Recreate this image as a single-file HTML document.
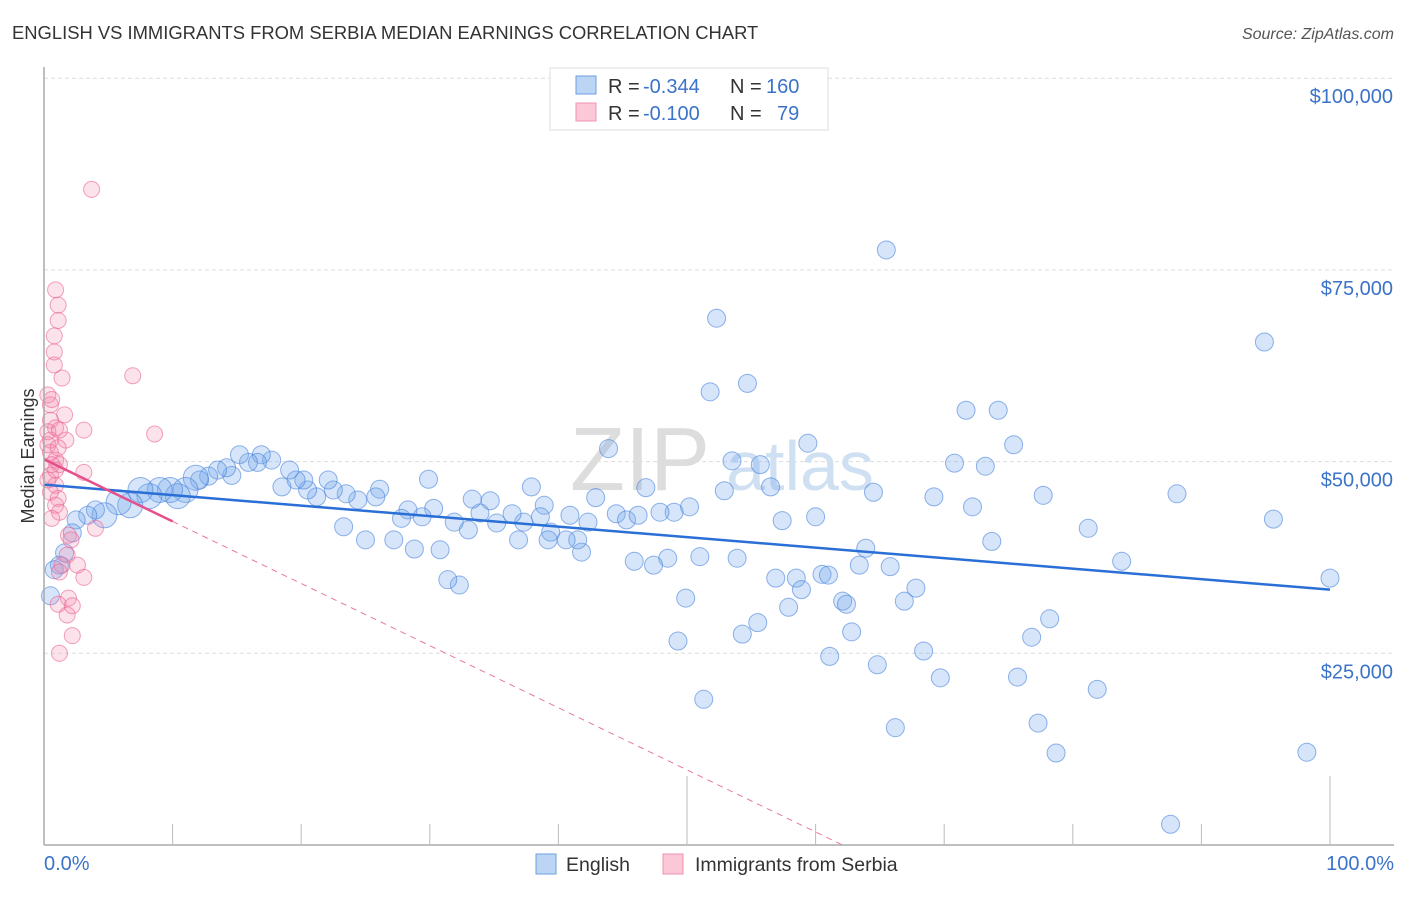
<!DOCTYPE html>
<html><head><meta charset="utf-8">
<style>
body{margin:0;background:#fff;font-family:"Liberation Sans",sans-serif;}
svg text{font-family:"Liberation Sans",sans-serif;}
</style></head>
<body>
<svg id="chart" width="1406" height="892" xmlns="http://www.w3.org/2000/svg">
<text x="12" y="39" font-size="18.4" fill="#333">ENGLISH VS IMMIGRANTS FROM SERBIA MEDIAN EARNINGS CORRELATION CHART</text>
<text x="1394" y="39" font-size="16" fill="#555" text-anchor="end" font-style="italic">Source: ZipAtlas.com</text>
<g id="grid"></g>
<text x="640" y="490" font-size="90" fill="#ddd" font-family="Liberation Serif" text-anchor="middle">ZIP</text>
<text x="800" y="490" font-size="70" fill="#cfe0f3" text-anchor="middle">atlas</text>
<g id="pts"></g>
<g id="axes"></g>
<text x="34" y="456" font-size="18" fill="#333" text-anchor="middle" transform="rotate(-90 34 456)">Median Earnings</text>
<text x="44" y="870" font-size="20" fill="#3b73c9">0.0%</text>
<text x="1394" y="870" font-size="20" fill="#3b73c9" text-anchor="end">100.0%</text>
<g>
<rect x="550" y="68" width="278" height="62" fill="#fff" stroke="#ddd"/>
<rect x="576" y="76" width="20" height="18" fill="#bcd5f5" stroke="#6d9fe0"/>
<rect x="576" y="103" width="20" height="18" fill="#fcc8d8" stroke="#ef90ad"/>
<text x="608" y="93" font-size="20" fill="#333">R =</text>
<text x="643" y="93" font-size="20" fill="#3b73c9">-0.344</text>
<text x="730" y="93" font-size="20" fill="#333">N =</text>
<text x="766" y="93" font-size="20" fill="#3b73c9">160</text>
<text x="608" y="120" font-size="20" fill="#333">R =</text>
<text x="643" y="120" font-size="20" fill="#3b73c9">-0.100</text>
<text x="730" y="120" font-size="20" fill="#333">N =</text>
<text x="777" y="120" font-size="20" fill="#3b73c9">79</text>
</g>
<g>
<rect x="536" y="854" width="20" height="20" fill="#bcd5f5" stroke="#6d9fe0"/>
<text x="566" y="871" font-size="19.5" fill="#333">English</text>
<rect x="663" y="854" width="20" height="20" fill="#fcc8d8" stroke="#ef90ad"/>
<text x="695" y="871" font-size="19.5" fill="#333">Immigrants from Serbia</text>
</g>
</svg>
<script>
const yTicks=[25000,50000,75000,100000];
const yTickLabels=["$25,000","$50,000","$75,000","$100,000"];
const englishX=[65.5,52.3,94.9,54.7,51.8,71.7,74.2,75.4,59.4,43.9,53.5,55.7,70.8,73.2,77.7,88.1,64.5,69.2,72.2,56.5,52.9,95.6,81.2,83.8,100,57.4,60.0,63.9,73.7,63.4,65.8,60.5,61,56.9,58.5,67.8,58.9,62.1,62.4,66.9,57.9,55.5,62.8,54.3,78.2,76.8,68.4,61.1,64.8,69.7,75.7,81.9,51.3,66.2,77.3,78.7,98.2,87.6,49.3,49.9,51,53.9,48.5,47.4,45.9,50.2,49,47.9,46.8,42.9,44.5,45.3,46.2,41.8,41.5,40.6,39.4,39.2,42.3,40.9,38.9,38.6,37.9,37.3,36.9,36.4,35.2,34.7,33.9,33.3,33,32.3,31.4,31.9,30.8,30.3,29.9,29.4,28.3,27.8,27.2,28.8,26.1,25.8,25.0,24.4,23.5,23.3,22.5,22.1,21.2,20.5,20.2,19.6,19.1,18.5,17.7,16.9,16.6,15.9,15.2,14.6,14.2,13.5,12.8,12.1,11.8,11.0,10.4,9.8,9,8.2,7.5,6.7,5.8,4.7,4,3.4,2.5,2.2,1.6,1.2,0.8,0.5];
const englishY=[77.6,68.7,65.6,60.2,59.1,56.7,56.7,52.2,52.4,51.7,50.1,49.6,49.8,49.4,45.6,45.8,46.0,45.4,44.1,46.7,46.2,42.5,41.3,37.0,34.8,42.3,42.8,38.7,39.6,36.5,36.3,35.3,35.2,34.8,34.8,33.5,33.3,31.8,31.4,31.8,31.0,29.0,27.8,27.5,29.5,27.1,25.3,24.6,23.5,21.8,21.9,20.3,19.0,15.3,15.9,12.0,12.1,2.7,26.6,32.2,37.6,37.4,37.4,36.5,37.0,44.1,43.4,43.4,46.6,45.3,43.2,42.4,43,38.2,39.8,39.8,40.8,39.8,42.1,43,44.3,42.8,46.7,42.1,39.8,43.2,42,44.9,43.3,45.1,41.1,33.9,34.6,42.1,38.5,43.9,47.7,42.8,43.7,42.6,39.8,38.6,46.4,45.4,39.8,45,45.8,41.5,46.3,47.6,45.4,46.3,47.6,47.6,48.9,46.7,50.2,50.9,49.9,49.9,50.9,48.2,49.2,48.9,48.1,47.6,47.9,46.3,45.5,46.3,46.3,45.5,46.3,44.3,44.7,43,43.7,43,42.4,40.7,38.1,36.5,35.9,32.5];
const serbiaX=[3.7,0.9,1.1,1.1,0.8,0.8,0.8,1.4,6.9,0.3,0.5,1.6,0.5,0.9,3.1,8.6,0.5,1.7,0.5,0.9,1.2,3.1,0.5,0.9,0.5,1.1,0.9,1.2,0.6,4,1.9,2.1,1.8,1.4,2.6,1.2,3.1,1.9,1.1,2.2,1.8,2.2,1.2,0.3,0.3,0.6,0.3,0.9,0.6,1.2,1.1];
const serbiaY=[85.5,72.4,70.4,68.4,66.4,64.3,62.6,60.9,61.2,58.7,57.4,56.1,55.4,54.4,54.1,53.6,52.8,52.8,51.2,50.2,49.6,48.6,48.2,46.9,46.0,45.2,44.3,43.4,42.6,41.3,40.4,39.8,37.8,36.5,36.5,35.6,34.9,32.2,31.4,31.2,30,27.3,25,53.9,52.2,49.6,47.6,48.9,58.1,54.1,51.8];
const englishTrend=[47000,33300];
const serbiaTrend=[50300,42200];
const NS="http://www.w3.org/2000/svg";
const X0=44,X1=1330,Y0=845,YPER=191.7/25000;
const sx=v=>X0+(X1-X0)*v/100;
const sy=v=>Y0-v*YPER;
function mk(tag,attrs,parent){const e=document.createElementNS(NS,tag);for(const k in attrs)e.setAttribute(k,attrs[k]);parent.appendChild(e);return e;}
const grid=document.getElementById('grid'),axes=document.getElementById('axes'),pts=document.getElementById('pts');
yTicks.forEach((t,i)=>{
 const l=mk('line',{x1:X0,x2:1394,y1:sy(t),y2:sy(t),stroke:'#ddd','stroke-dasharray':'4,3'},grid);
 
 
 const tx=mk('text',{x:1393,y:sy(t)+25,'font-size':20,fill:'#3b73c9','text-anchor':'end'},grid);
 tx.textContent=yTickLabels[i];
 
 
});
const xa=mk('line',{x1:X0,x2:1394,y1:Y0,y2:Y0,stroke:'#aaa','stroke-width':1.5},axes);


const ya=mk('line',{x1:X0,x2:X0,y1:67,y2:Y0,stroke:'#aaa','stroke-width':1.5},axes);


for(let i=1;i<=10;i++){
 const tk=mk('line',{x1:sx(i*10),x2:sx(i*10),y1:(i%5==0)?Y0-69:Y0-21,y2:Y0,stroke:'#bbb'},axes);
 
 
}
englishX.forEach((x,i)=>{
 const big=x<12&&x>4;
 const c=mk('circle',{cx:sx(x),cy:sy(englishY[i]*1000),r:big?12.5:9,fill:'rgba(120,170,235,0.3)',stroke:'rgba(70,130,220,0.6)','stroke-width':1},pts);
 
 
});
serbiaX.forEach((x,i)=>{
 const c=mk('circle',{cx:sx(x),cy:sy(serbiaY[i]*1000),r:8,fill:'rgba(245,140,175,0.25)',stroke:'rgba(235,100,145,0.6)','stroke-width':1},pts);
 
 
});
const et=mk('line',{x1:sx(0),y1:sy(englishTrend[0]),x2:sx(100),y2:sy(englishTrend[1]),stroke:'#2a6fd6','stroke-width':2.5},pts);


const slope=(serbiaTrend[1]-serbiaTrend[0])/10;
const st=mk('line',{x1:sx(0),y1:sy(serbiaTrend[0]),x2:sx(10),y2:sy(serbiaTrend[1]),stroke:'#e5508a','stroke-width':2.5},pts);


const xe=-serbiaTrend[0]/slope;
const sd=mk('line',{x1:sx(10),y1:sy(serbiaTrend[1]),x2:sx(xe),y2:sy(0),stroke:'#e8789f','stroke-width':1,'stroke-dasharray':'6,5'},pts);


</script>
</body></html>
